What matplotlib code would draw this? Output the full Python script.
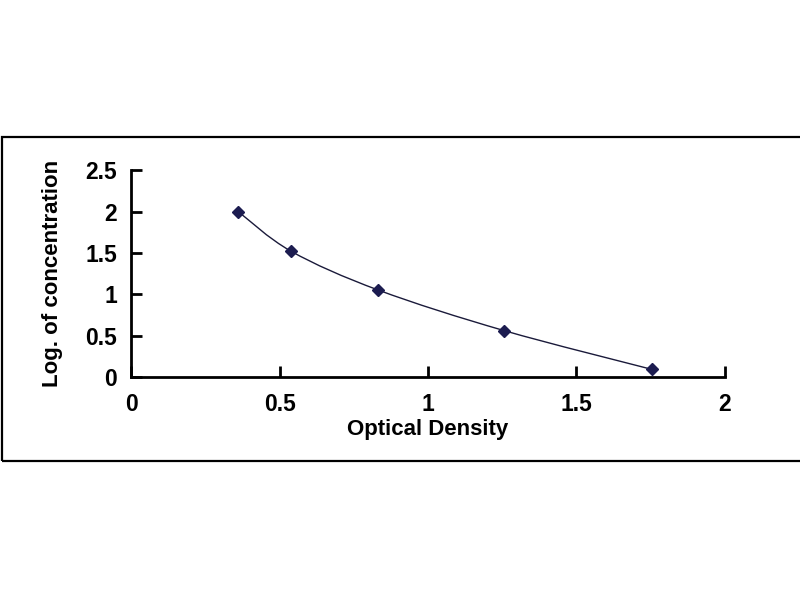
import numpy as np
import matplotlib
matplotlib.use("Agg")
import matplotlib.pyplot as plt
from matplotlib.patches import Rectangle, PathPatch
from matplotlib.path import Path

# standard curve points
od = [0.361, 0.539, 0.833, 1.256, 1.754]
log_conc = [2.0, 1.52, 1.05, 0.56, 0.09]

x_ticks = [0, 0.5, 1, 1.5, 2]
x_labels = ["0", "0.5", "1", "1.5", "2"]
y_ticks = [0, 0.5, 1, 1.5, 2, 2.5]
y_labels = ["0", "0.5", "1", "1.5", "2", "2.5"]

plt.rcParams['font.family'] = ['Liberation Sans', 'DejaVu Sans']
plt.rcParams['font.weight'] = 'bold'


def smooth_path(xs, ys, t=1.0 / 6):
    # Excel-style smoothed line: cubic bezier segments through each point
    pts = np.column_stack([xs, ys])
    n = len(pts)
    verts = [pts[0]]
    codes = [Path.MOVETO]
    for i in range(n - 1):
        p0 = pts[i - 1] if i > 0 else pts[i]
        p1 = pts[i]
        p2 = pts[i + 1]
        p3 = pts[i + 2] if i + 2 < n else pts[i + 1]
        c1 = p1 + (p2 - p0) * t
        c2 = p2 - (p3 - p1) * t
        verts += [c1, c2, p2]
        codes += [Path.CURVE4] * 3
    return Path(verts, codes)


fig = plt.figure(figsize=(8, 6), dpi=100)
fig.patch.set_facecolor('white')

# outer frame around the chart area
fig.patches.append(Rectangle((0.003, 0.232), 1.0, 0.540, transform=fig.transFigure,
                             fill=False, edgecolor='black', linewidth=1.6))

ax = fig.add_axes([0.164, 0.372, 0.742, 0.344])

ax.add_patch(PathPatch(smooth_path(od, log_conc), fill=False,
                       edgecolor='#1a1a3a', linewidth=1.0, zorder=2))
ax.plot(od, log_conc, linestyle='none', marker='D', markersize=6.5,
        color='#1c1c50', zorder=3)

ax.set_xlim(0, 2)
ax.set_ylim(0, 2.5)
ax.set_xticks(x_ticks)
ax.set_xticklabels(x_labels)
ax.set_yticks(y_ticks)
ax.set_yticklabels(y_labels)

for side in ['top', 'right']:
    ax.spines[side].set_visible(False)
for side in ['left', 'bottom']:
    ax.spines[side].set_linewidth(2.0)

ax.tick_params(axis='both', direction='in', length=8, width=2.0, labelsize=16.5)
ax.tick_params(axis='x', pad=12)
ax.tick_params(axis='y', pad=10)
for lbl in ax.get_xticklabels() + ax.get_yticklabels():
    lbl.set_fontweight('bold')

ax.set_xlabel("Optical Density", fontsize=16, fontweight='bold', labelpad=2)
ax.set_ylabel("Log. of concentration", fontsize=16, fontweight='bold', labelpad=16)

fig.savefig("out.png", dpi=100)
